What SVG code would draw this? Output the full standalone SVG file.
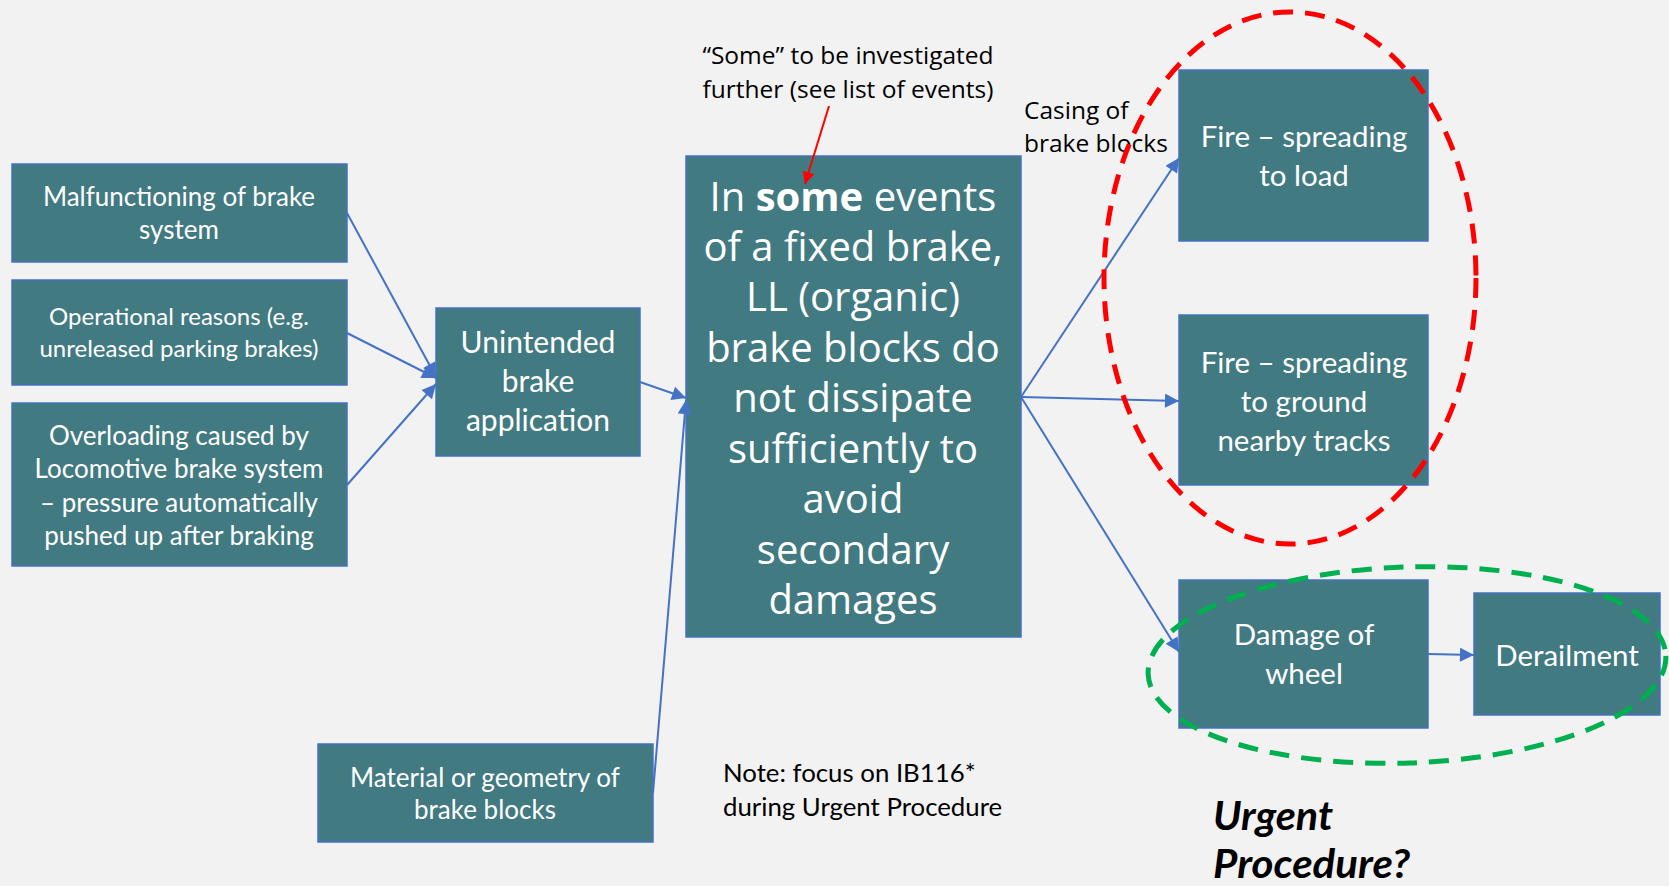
<svg xmlns="http://www.w3.org/2000/svg" width="1669" height="886" viewBox="0 0 1669 886">
  <defs>
    <marker id="arrBig" viewBox="0 0 10 10" refX="10" refY="5" markerWidth="16" markerHeight="14" markerUnits="userSpaceOnUse" orient="auto">
      <path d="M0,0 L10,5 L0,10 z" fill="#4472C4"/>
    </marker>
    <marker id="arrRed" viewBox="0 0 10 10" refX="10" refY="5" markerWidth="14" markerHeight="12" markerUnits="userSpaceOnUse" orient="auto">
      <path d="M0,0 L10,5 L0,10 z" fill="#FF0000"/>
    </marker>
    <style>
      .box { fill: #427A82; stroke: #4472C4; stroke-width: 1.5; }
      .bt { font-family: Lato, "Open Sans", sans-serif; fill: #FFFFFF; text-anchor: middle; }
      .mt { font-family: "Open Sans", "Noto Sans", sans-serif; fill: #FFFFFF; text-anchor: middle; font-size: 40px; }
      .note { font-family: "Open Sans", "Noto Sans", sans-serif; fill: #000000; font-size: 24.5px; }
      .noteC { font-family: Lato, "Open Sans", sans-serif; fill: #000000; font-size: 25.8px; }
      .conn { stroke: #4472C4; stroke-width: 2; fill: none; }
      .urg { font-family: Lato, "Open Sans", sans-serif; font-size: 40px; font-weight: bold; font-style: italic; fill: #000000; }
    </style>
  </defs>
  <rect x="0" y="0" width="1669" height="886" fill="#F2F2F2"/>

  <g id="n-malfunction">
    <rect class="box" x="12" y="164" width="335" height="98"/>
    <text class="bt" font-size="26" x="179" y="206">Malfunctioning of brake</text>
    <text class="bt" font-size="26" x="179" y="239">system</text>
  </g>
  <g id="n-operational">
    <rect class="box" x="12" y="280" width="335" height="105"/>
    <text class="bt" font-size="24" x="179" y="325">Operational reasons (e.g.</text>
    <text class="bt" font-size="24" x="179" y="357">unreleased parking brakes)</text>
  </g>
  <g id="n-overloading">
    <rect class="box" x="12" y="403" width="335" height="163"/>
    <text class="bt" font-size="26" x="179" y="445">Overloading caused by</text>
    <text class="bt" font-size="26" x="179" y="478">Locomotive brake system</text>
    <text class="bt" font-size="26" x="179" y="512">– pressure automatically</text>
    <text class="bt" font-size="26" x="179" y="545">pushed up after braking</text>
  </g>
  <g id="n-unintended">
    <rect class="box" x="436" y="308" width="204" height="148"/>
    <text class="bt" font-size="30" x="538" y="353">Unintended</text>
    <text class="bt" font-size="30" x="538" y="392">brake</text>
    <text class="bt" font-size="30" x="538" y="431">application</text>
  </g>
  <g id="n-material">
    <rect class="box" x="318" y="744" width="335" height="98"/>
    <text class="bt" font-size="26" x="485" y="787">Material or geometry of</text>
    <text class="bt" font-size="26" x="485" y="819">brake blocks</text>
  </g>
  <g id="n-main">
    <rect class="box" x="686" y="156" width="335" height="481"/>
    <text class="mt" x="853" y="211">In <tspan font-weight="bold">some</tspan> events</text>
    <text class="mt" x="853" y="261">of a fixed brake,</text>
    <text class="mt" x="853" y="311">LL (organic)</text>
    <text class="mt" x="853" y="362">brake blocks do</text>
    <text class="mt" x="853" y="412">not dissipate</text>
    <text class="mt" x="853" y="463">sufficiently to</text>
    <text class="mt" x="853" y="513">avoid</text>
    <text class="mt" x="853" y="564">secondary</text>
    <text class="mt" x="853" y="614">damages</text>
  </g>
  <g id="n-fireload">
    <rect class="box" x="1179" y="70" width="249" height="171"/>
    <text class="bt" font-size="29.5" x="1304" y="147">Fire – spreading</text>
    <text class="bt" font-size="29.5" x="1304" y="186">to load</text>
  </g>
  <g id="n-fireground">
    <rect class="box" x="1179" y="315" width="249" height="170"/>
    <text class="bt" font-size="29.5" x="1304" y="373">Fire – spreading</text>
    <text class="bt" font-size="29.5" x="1304" y="412">to ground</text>
    <text class="bt" font-size="29.5" x="1304" y="451">nearby tracks</text>
  </g>
  <g id="n-damage">
    <rect class="box" x="1179" y="580" width="249" height="148"/>
    <text class="bt" font-size="29.5" x="1304" y="645">Damage of</text>
    <text class="bt" font-size="29.5" x="1304" y="684">wheel</text>
  </g>
  <g id="n-derailment">
    <rect class="box" x="1474" y="593" width="186" height="122"/>
    <text class="bt" font-size="29.5" x="1567" y="666">Derailment</text>
  </g>

  <g id="connectors">
    <line class="conn" x1="347" y1="213" x2="436" y2="377" marker-end="url(#arrBig)"/>
    <line class="conn" x1="347" y1="333" x2="436" y2="378" marker-end="url(#arrBig)"/>
    <line class="conn" x1="347" y1="485" x2="436" y2="384" marker-end="url(#arrBig)"/>
    <line class="conn" x1="640" y1="382" x2="686" y2="398" marker-end="url(#arrBig)"/>
    <line class="conn" x1="653" y1="793" x2="686" y2="400" marker-end="url(#arrBig)"/>
    <line class="conn" x1="1021" y1="397" x2="1179" y2="158" marker-end="url(#arrBig)"/>
    <line class="conn" x1="1021" y1="397" x2="1179" y2="401" marker-end="url(#arrBig)"/>
    <line class="conn" x1="1021" y1="397" x2="1179" y2="652" marker-end="url(#arrBig)"/>
    <line class="conn" x1="1428" y1="654" x2="1474" y2="655" marker-end="url(#arrBig)"/>
    <line x1="829" y1="106" x2="805" y2="184" stroke="#FF0000" stroke-width="2" marker-end="url(#arrRed)"/>
  </g>

  <g id="annotations">
    <text class="note" x="848" y="64" text-anchor="middle">“Some” to be investigated</text>
    <text class="note" x="848" y="98" text-anchor="middle">further (see list of events)</text>
    <text class="note" x="1024" y="119">Casing of</text>
    <text class="note" x="1024" y="152">brake blocks</text>
    <text class="noteC" x="723" y="782">Note: focus on IB116*</text>
    <text class="noteC" x="723" y="816">during Urgent Procedure</text>
    <text class="urg" x="1213" y="830" textLength="120" lengthAdjust="spacingAndGlyphs">Urgent</text>
    <text class="urg" x="1213" y="878" textLength="197" lengthAdjust="spacingAndGlyphs">Procedure?</text>
  </g>

  <g id="highlights" fill="none">
    <ellipse cx="1290" cy="278" rx="186" ry="266" stroke="#FF0000" stroke-width="5" stroke-dasharray="20 12"/>
    <ellipse cx="1407" cy="665" rx="259" ry="98" stroke="#00B050" stroke-width="5" stroke-dasharray="20 12" transform="rotate(-2 1407 665)"/>
  </g>
</svg>
